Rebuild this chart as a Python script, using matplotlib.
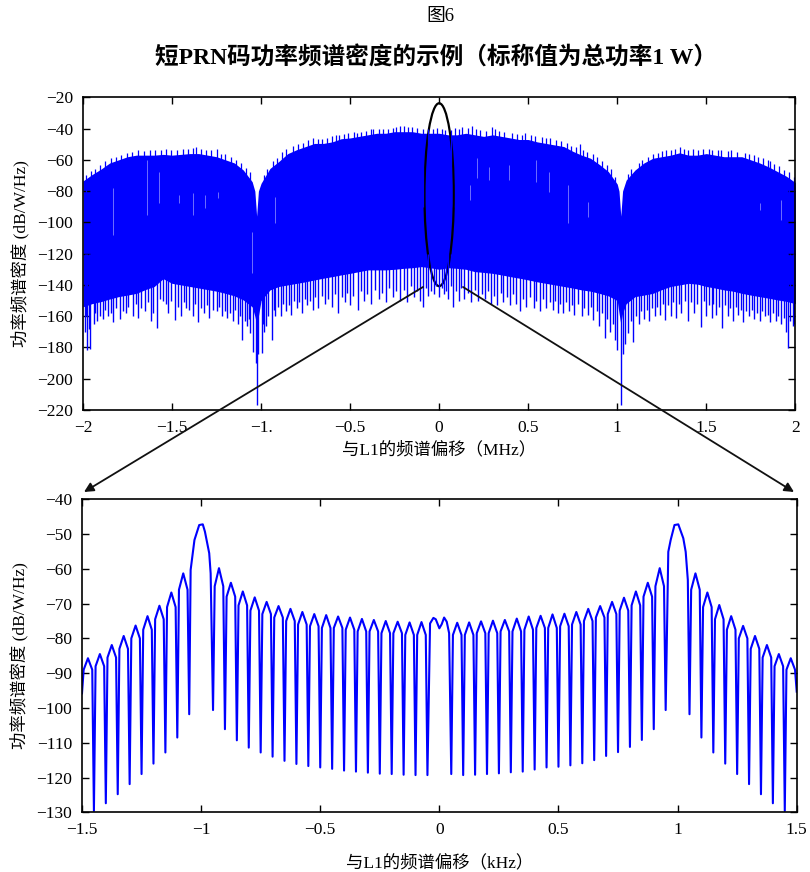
import matplotlib
matplotlib.use("Agg")
import matplotlib.pyplot as plt
from matplotlib.patches import Ellipse, FancyArrowPatch
import numpy as np

plt.rcParams['font.family'] = ['Liberation Serif', 'Noto Sans CJK SC', 'DejaVu Sans']

# --- Top panel: envelope of the dense PSD (MHz, dB/W/Hz)
env_x = [-2.00, -1.95, -1.90, -1.85, -1.80, -1.75, -1.70, -1.65, -1.60, -1.55,
         -1.50, -1.45, -1.40, -1.35, -1.30, -1.25, -1.20, -1.15, -1.10, -1.05,
         -1.035, -1.025, -1.015, -1.00, -0.95, -0.90, -0.85, -0.80, -0.75, -0.70,
         -0.65, -0.60, -0.55, -0.50, -0.45, -0.40, -0.35, -0.30, -0.25, -0.20,
         -0.15, -0.10, -0.05, 0.00, 0.05, 0.10, 0.15, 0.20, 0.25, 0.30,
         0.35, 0.40, 0.45, 0.50, 0.55, 0.60, 0.65, 0.70, 0.75, 0.80,
         0.85, 0.90, 0.95, 1.00, 1.01, 1.02, 1.03, 1.05, 1.10, 1.15,
         1.20, 1.25, 1.30, 1.35, 1.40, 1.45, 1.50, 1.55, 1.60, 1.65,
         1.70, 1.75, 1.80, 1.85, 1.90, 1.95, 2.00]
env_top = [-73.5, -69.5, -66.0, -62.0, -60.0, -58.0, -57.0, -57.0, -57.0, -56.5,
           -57.0, -56.5, -56.0, -56.0, -57.0, -58.0, -60.0, -62.0, -66.5, -74.0,
           -80.0, -96.0, -80.0, -75.0, -65.5, -61.0, -56.0, -53.5, -51.5, -49.5,
           -49.5, -48.5, -46.5, -46.0, -45.0, -44.0, -43.0, -43.0, -42.0, -42.0,
           -42.0, -43.0, -43.0, -43.0, -44.0, -44.0, -43.0, -44.0, -45.0, -44.0,
           -45.0, -46.0, -47.0, -47.0, -48.5, -49.5, -50.5, -51.5, -54.5, -57.0,
           -59.0, -63.0, -67.5, -75.5, -80.0, -96.0, -80.0, -73.0, -66.5, -62.0,
           -59.0, -58.0, -57.0, -55.5, -57.0, -57.0, -56.0, -57.0, -58.0, -58.0,
           -58.0, -60.0, -62.0, -64.5, -67.5, -70.5, -74.5]
env_low = [-154.0, -152.0, -150.7, -149.0, -147.5, -146.5, -145.4, -143.0, -141.0, -136.0,
           -139.0, -140.0, -141.0, -142.0, -143.0, -144.0, -145.4, -147.0, -149.6, -154.0,
           -160.0, -165.0, -160.0, -150.0, -143.2, -141.0, -140.0, -139.0, -138.0, -136.8,
           -135.7, -134.7, -133.6, -132.6, -131.5, -130.4, -130.4, -130.4, -130.0, -129.4,
           -129.0, -128.3, -129.0, -130.0, -129.0, -129.4, -130.0, -131.5, -132.0, -132.6,
           -133.6, -134.7, -135.7, -136.8, -138.0, -139.0, -140.0, -141.0, -142.0, -143.2,
           -144.0, -145.4, -147.0, -150.0, -158.0, -165.0, -158.0, -152.0, -147.5, -146.5,
           -145.4, -143.0, -141.0, -140.0, -139.0, -139.5, -141.0, -142.0, -143.2, -144.0,
           -145.4, -146.5, -147.5, -148.5, -149.6, -150.5, -152.0]

# deep downward spikes below the dense band
spike_x = [-1.99, -1.975, -1.96, -1.94, -1.92, -1.89, -1.86, -1.83, -1.79, -1.76,
           -1.72, -1.69, -1.65, -1.62, -1.585, -1.55, -1.52, -1.483, -1.45, -1.42,
           -1.38, -1.352, -1.32, -1.29, -1.25, -1.22, -1.193, -1.16, -1.13, -1.105,
           -1.08, -1.06, -1.043, -1.03, -1.025, -1.015, -0.996, -0.985, -0.97, -0.941,
           -0.92, -0.89, -0.86, -0.83, -0.80, -0.77, -0.74, -0.71, -0.68, -0.64,
           -0.60, -0.566, -0.53, -0.50, -0.454, -0.42, -0.38, -0.34, -0.30, -0.26,
           -0.22, -0.18, -0.14, -0.11, -0.089, -0.06, -0.03, 0.00, 0.03, 0.05,
           0.079, 0.11, 0.14, 0.18, 0.22, 0.26, 0.29, 0.323, 0.36, 0.40,
           0.43, 0.454, 0.49, 0.53, 0.566, 0.60, 0.64, 0.667, 0.697, 0.73,
           0.76, 0.80, 0.835, 0.866, 0.90, 0.931, 0.96, 0.985, 0.997, 1.02,
           1.03, 1.045, 1.06, 1.09, 1.12, 1.15, 1.18, 1.21, 1.24, 1.268,
           1.30, 1.33, 1.36, 1.40, 1.43, 1.47, 1.50, 1.53, 1.555, 1.586,
           1.62, 1.65, 1.68, 1.708, 1.74, 1.77, 1.80, 1.83, 1.86, 1.89,
           1.92, 1.95, 1.96, 1.985]
spike_db = [-170.0, -181.6, -181.0, -165.0, -163.0, -162.0, -160.0, -164.0, -162.0, -158.0,
            -160.0, -161.0, -157.0, -163.0, -167.7, -150.0, -158.0, -162.4, -160.0, -155.0,
            -160.0, -163.5, -158.0, -161.0, -157.0, -160.0, -161.0, -163.0, -165.0, -175.2,
            -166.0, -171.0, -183.0, -190.0, -216.8, -184.0, -183.7, -170.0, -166.0, -175.2,
            -160.0, -160.0, -157.0, -159.0, -155.0, -158.0, -153.0, -156.0, -155.0, -152.0,
            -154.0, -158.0, -151.0, -153.0, -156.0, -150.0, -152.0, -149.0, -151.0, -148.0,
            -150.0, -151.0, -148.0, -150.0, -153.9, -147.0, -146.0, -148.0, -146.0, -149.0,
            -153.9, -150.0, -149.0, -151.0, -150.0, -149.0, -152.0, -153.0, -151.0, -153.0,
            -152.0, -157.0, -154.0, -155.0, -157.0, -155.0, -156.0, -158.0, -158.2, -157.0,
            -159.0, -160.0, -159.0, -162.4, -166.0, -174.1, -170.0, -175.0, -181.6, -216.8,
            -184.0, -178.0, -171.0, -176.3, -165.0, -162.0, -163.0, -160.0, -159.0, -162.4,
            -160.0, -161.0, -158.0, -163.0, -158.0, -166.7, -160.0, -161.0, -159.0, -167.7,
            -160.0, -163.0, -159.0, -164.0, -160.0, -162.0, -163.0, -160.0, -164.0, -163.0,
            -165.0, -170.0, -180.5, -166.0]

# shallower spikes that make the ragged lower edge of the band
rag_x = [-1.985, -1.965, -1.935, -1.905, -1.875, -1.845, -1.815, -1.775, -1.745, -1.705,
         -1.675, -1.635, -1.605, -1.57, -1.535, -1.505, -1.465, -1.435, -1.405, -1.37,
         -1.335, -1.305, -1.27, -1.235, -1.205, -1.175, -1.145, -1.12, -1.09, -1.07,
         -0.99, -0.96, -0.93, -0.905, -0.875, -0.845, -0.815, -0.785, -0.755, -0.725,
         -0.695, -0.66, -0.625, -0.585, -0.545, -0.515, -0.485, -0.44, -0.405, -0.36,
         -0.32, -0.28, -0.24, -0.20, -0.16, -0.125, -0.075, -0.045, -0.015, 0.015,
         0.04, 0.065, 0.095, 0.125, 0.16, 0.20, 0.24, 0.275, 0.31, 0.345,
         0.38, 0.415, 0.47, 0.51, 0.545, 0.585, 0.62, 0.65, 0.68, 0.715,
         0.745, 0.78, 0.815, 0.85, 0.885, 0.915, 0.945, 0.975,
         1.075, 1.105, 1.135, 1.165, 1.195, 1.225, 1.255, 1.285, 1.315, 1.345,
         1.38, 1.415, 1.45, 1.485, 1.515, 1.54, 1.57, 1.605, 1.635, 1.665,
         1.695, 1.725, 1.755, 1.785, 1.815, 1.845, 1.875, 1.905, 1.935, 1.97, 1.995]
rag_db = [-160, -168, -158, -160, -156, -158, -155, -157, -154, -152,
          -155, -151, -158, -149, -152, -150, -154, -151, -156, -152,
          -155, -153, -156, -154, -157, -158, -156, -160, -163, -162,
          -165, -160, -156, -154, -152, -153, -150, -151, -149, -150,
          -148, -147, -149, -146, -148, -145, -147, -144, -146, -143,
          -145, -142, -144, -143, -141, -144, -142, -144, -141, -142,
          -144, -141, -144, -142, -145, -143, -146, -144, -147, -145,
          -148, -146, -149, -148, -150, -149, -151, -150, -152, -151,
          -153, -152, -155, -154, -157, -158, -162, -165,
          -163, -160, -157, -156, -155, -154, -152, -153, -151, -152,
          -150, -151, -152, -150, -153, -152, -154, -153, -155, -154,
          -156, -157, -156, -158, -157, -159, -158, -160, -161, -163, -165]

# spikes on the top edge of the band
peak_x = [-1.985, -1.955, -1.935, -1.905, -1.875, -1.845, -1.815, -1.785, -1.755, -1.725,
          -1.69, -1.66, -1.625, -1.595, -1.56, -1.535, -1.505, -1.47, -1.44, -1.41,
          -1.385, -1.365, -1.34, -1.31, -1.28, -1.25, -1.225, -1.20, -1.17, -1.14,
          -1.115, -1.085, -1.065,
          -0.985, -0.965, -0.935, -0.91, -0.88, -0.86, -0.82, -0.79, -0.765, -0.735,
          -0.707, -0.68, -0.66, -0.63, -0.60, -0.58, -0.561, -0.535, -0.51, -0.48,
          -0.463, -0.44, -0.41, -0.385, -0.37, -0.34, -0.315, -0.29, -0.26, -0.245,
          -0.22, -0.195, -0.173, -0.15, -0.125, -0.09, -0.065, -0.035, -0.01, 0.015,
          0.035, 0.065, 0.089, 0.11, 0.13, 0.16, 0.182, 0.205, 0.23, 0.265,
          0.295, 0.315, 0.335, 0.365, 0.41, 0.435, 0.465, 0.482, 0.515, 0.54,
          0.575, 0.60, 0.625, 0.655, 0.685, 0.72, 0.74, 0.77, 0.79, 0.81,
          0.83, 0.865, 0.885, 0.915, 0.94, 0.965, 0.985,
          1.06, 1.08, 1.12, 1.14, 1.175, 1.20, 1.23, 1.25, 1.275, 1.30,
          1.325, 1.352, 1.375, 1.40, 1.425, 1.455, 1.483, 1.515, 1.53, 1.565,
          1.585, 1.62, 1.64, 1.675, 1.72, 1.74, 1.77, 1.79, 1.82, 1.848,
          1.86, 1.88, 1.91, 1.935, 1.965, 1.99]
peak_db = [-70.0, -67.0, -66.0, -63.5, -61.0, -59.0, -58.5, -57.0, -55.5, -55.0,
           -54.0, -54.5, -53.5, -54.0, -53.5, -53.0, -54.0, -53.5, -53.0, -53.0,
           -52.5, -52.0, -53.0, -54.0, -54.0, -53.3, -56.0, -56.5, -58.0, -60.0,
           -62.0, -65.0, -68.0,
           -70.0, -66.0, -61.0, -59.0, -55.0, -53.0, -51.0, -50.0, -49.0, -47.5,
           -46.2, -46.5, -46.5, -46.0, -45.0, -44.0, -44.1, -43.5, -43.0, -42.5,
           -43.0, -42.0, -41.5, -40.5, -40.5, -40.5, -40.0, -40.0, -39.5, -39.0,
           -38.3, -38.5, -38.8, -39.0, -39.5, -40.0, -40.5, -40.0, -39.5, -40.0,
           -41.0, -41.0, -39.8, -40.5, -39.0, -39.5, -38.3, -40.0, -41.0, -41.5,
           -38.8, -40.0, -41.5, -42.0, -43.0, -43.5, -44.0, -43.0, -44.0, -45.0,
           -45.2, -46.0, -46.0, -47.5, -48.0, -49.0, -51.0, -51.5, -49.9, -53.5,
           -55.0, -56.0, -58.5, -61.0, -63.0, -66.0, -71.0,
           -69.0, -66.0, -62.0, -60.0, -58.0, -56.5, -55.8, -54.5, -53.5, -53.5,
           -53.0, -52.0, -53.0, -53.5, -53.0, -53.5, -53.3, -53.0, -53.5, -54.0,
           -54.0, -54.5, -54.0, -55.0, -55.5, -56.0, -57.0, -58.0, -59.0, -60.1,
           -61.0, -62.5, -64.0, -66.5, -68.0, -71.0]

# thin white gaps inside the band
gap_x = [-1.83, -1.643, -1.571, -1.459, -1.384, -1.315, -1.24, -1.053, -0.92,
         0.173, 0.21, 0.282, 0.394, 0.542, 0.615, 0.725, 0.837, 1.801, 1.918]
gap_hi = [-78.2, -60.0, -67.5, -82.5, -81.4, -82.5, -80.3, -106.0, -83.5,
          -76.0, -59.0, -64.3, -63.3, -60.0, -67.5, -76.0, -86.7, -87.8, -85.7]
gap_lo = [-108.0, -95.3, -87.8, -87.8, -95.3, -91.0, -84.6, -132.6, -100.6,
          -85.7, -71.8, -72.9, -72.9, -74.0, -80.3, -100.6, -96.3, -92.1, -98.5]

# --- Bottom panel: lobed spectrum (kHz, dB/W/Hz)
side_x = [-1.475, -1.425, -1.375, -1.325, -1.275, -1.225, -1.175, -1.125, -1.075,
          -0.925, -0.875, -0.825, -0.775, -0.725, -0.675, -0.625, -0.575, -0.525,
          -0.475, -0.425, -0.375, -0.325, -0.275, -0.225, -0.175, -0.125, -0.075,
          0.075, 0.125, 0.175, 0.225, 0.275, 0.325, 0.375, 0.425, 0.475,
          0.525, 0.575, 0.625, 0.675, 0.725, 0.775, 0.825, 0.875, 0.925,
          1.075, 1.125, 1.175, 1.225, 1.275, 1.325, 1.375, 1.425, 1.475]
side_peak = [-85.7, -84.5, -81.9, -79.3, -76.3, -73.6, -70.6, -66.8, -61.3,
             -59.8, -64.0, -66.5, -68.2, -69.5, -70.7, -71.5, -72.4, -73.0,
             -73.3, -73.7, -74.0, -74.4, -74.7, -75.0, -75.2, -75.4, -75.3,
             -75.5, -75.4, -75.1, -74.9, -74.7, -74.3, -73.7, -73.5, -73.1,
             -72.9, -72.4, -71.5, -70.7, -69.5, -68.3, -66.5, -64.0, -59.8,
             -61.3, -66.8, -70.4, -73.6, -76.4, -79.3, -81.9, -84.5, -85.7]
side_shoulder = [-89.0, -88.0, -85.5, -83.0, -80.0, -77.5, -74.5, -71.0, -66.0,
                 -65.0, -68.0, -70.5, -72.0, -73.0, -74.0, -75.0, -76.0, -76.5,
                 -77.0, -77.0, -77.5, -78.0, -78.0, -78.5, -78.5, -79.0, -79.0,
                 -79.0, -79.0, -78.5, -78.5, -78.0, -78.0, -77.5, -77.0, -77.0,
                 -76.5, -76.0, -75.0, -74.0, -73.0, -72.0, -70.5, -68.0, -65.0,
                 -66.0, -71.0, -74.5, -77.5, -80.0, -83.0, -85.5, -88.0, -89.0]

null_x = [-1.50, -1.45, -1.40, -1.35, -1.30, -1.25, -1.20, -1.15, -1.10, -1.05,
          -0.95, -0.90, -0.85, -0.80, -0.75, -0.70, -0.65, -0.60, -0.55, -0.50,
          -0.45, -0.40, -0.35, -0.30, -0.25, -0.20, -0.15, -0.10, -0.05,
          0.05, 0.10, 0.15, 0.20, 0.25, 0.30, 0.35, 0.40, 0.45, 0.50,
          0.55, 0.60, 0.65, 0.70, 0.75, 0.80, 0.85, 0.90, 0.95,
          1.05, 1.10, 1.15, 1.20, 1.25, 1.30, 1.35, 1.40, 1.45, 1.50]
null_db = [-95.8, -129.6, -127.4, -124.8, -121.9, -119.0, -116.0, -112.8, -108.5, -101.8,
           -100.6, -106.1, -109.3, -111.4, -112.8, -114.0, -115.2, -116.1, -116.7, -117.1,
           -117.5, -118.0, -118.3, -118.6, -118.9, -119.0, -119.2, -119.3, -119.3,
           -119.0, -119.3, -119.2, -119.0, -118.8, -118.5, -118.3, -117.7, -117.1, -116.9,
           -116.5, -115.9, -115.0, -113.8, -112.7, -111.2, -109.2, -106.1, -100.6,
           -101.8, -108.5, -112.8, -116.0, -119.0, -121.9, -124.8, -127.4, -129.6, -95.3]

# the three main lobes (at -1, 0 and +1 kHz)
main_x = [-1.044, -1.028, -1.008, -0.993, -0.984, -0.966, -0.960,
          -0.039, -0.025, -0.015, 0.000, 0.010, 0.020, 0.031, 0.041,
          0.961, 0.971, 0.987, 1.003, 1.024, 1.034, 1.043]
main_db = [-60.3, -51.7, -47.4, -47.2, -49.3, -55.5, -61.3,
           -75.7, -74.1, -74.5, -77.1, -75.9, -74.0, -75.2, -78.5,
           -55.1, -51.7, -47.4, -47.2, -51.2, -55.1, -63.2]

blue = '#0000ff'
fig = plt.figure(figsize=(8.1, 8.72), dpi=100)

# ---------------- top panel
ax1 = fig.add_axes([83 / 810, 1 - 410 / 872, 712.3 / 810, 312.7 / 872])
ax1.fill_between(env_x, env_low, env_top, color=blue, lw=0)
ax1.vlines(spike_x, -120, spike_db, color=blue, lw=1.0)
ax1.vlines(rag_x, -120, rag_db, color=blue, lw=1.0)
ax1.vlines(peak_x, -90, peak_db, color=blue, lw=0.9)
ax1.vlines(gap_x, gap_lo, gap_hi, color='white', lw=0.6, alpha=0.5)
ax1.add_patch(Ellipse((0, -82.3), 0.165, 117, fill=False, ec='black', lw=1.6))

ax1.set_xlim(-2, 2)
ax1.set_ylim(-220, -20)
ax1.set_xticks(np.arange(-2, 2.01, 0.5))
ax1.set_xticklabels(['−2', '−1.5', '−1.', '−0.5', '0', '0.5', '1', '1.5', '2'])
ax1.set_yticks(np.arange(-220, -19, 20))
ax1.set_yticklabels(['−%d' % abs(v) for v in range(-220, -19, 20)])
ax1.set_xlabel('与L1的频谱偏移（MHz）', fontsize=12.5, labelpad=4)
ax1.set_ylabel('功率频谱密度 (dB/W/Hz)', fontsize=12.5, labelpad=6)

# ---------------- bottom panel
xs = side_x + [c - 0.018 for c in side_x] + [c + 0.018 for c in side_x] + null_x + main_x
ys = side_peak + side_shoulder + side_shoulder + null_db + main_db
order = np.argsort(xs)
ax2 = fig.add_axes([82 / 810, 1 - 812.3 / 872, 714.7 / 810, 313 / 872])
ax2.plot(np.array(xs)[order], np.array(ys)[order], color=blue, lw=1.5)
ax2.set_xlim(-1.5, 1.5)
ax2.set_ylim(-130, -40)
ax2.set_xticks(np.arange(-1.5, 1.51, 0.5))
ax2.set_xticklabels(['−1.5', '−1', '−0.5', '0', '0.5', '1', '1.5'])
ax2.set_yticks(np.arange(-130, -39, 10))
ax2.set_yticklabels(['−%d' % abs(v) for v in range(-130, -39, 10)])
ax2.set_xlabel('与L1的频谱偏移（kHz）', fontsize=12.5, labelpad=12)
ax2.set_ylabel('功率频谱密度 (dB/W/Hz)', fontsize=12.5, labelpad=6)

for ax in (ax1, ax2):
    ax.tick_params(direction='in', top=True, right=True, length=5, width=1,
                   labelsize=12.5, pad=7)
    for s in ax.spines.values():
        s.set_linewidth(1.2)

# zoom arrows from the ellipse to the lower panel
def fpx(x, y):
    return (x / 810, 1 - y / 872)

for a, b in [((423, 287), (84, 492)), ((463, 287), (794, 492))]:
    fig.add_artist(FancyArrowPatch(fpx(*a), fpx(*b), transform=fig.transFigure,
                                   arrowstyle='-|>', mutation_scale=14,
                                   color='#111111', lw=1.3, shrinkA=0, shrinkB=0))

fig.text(440 / 810, 1 - 16 / 872, '图6', ha='center', va='center', fontsize=13.5)
fig.text(436 / 810, 1 - 57 / 872, '短PRN码功率频谱密度的示例（标称值为总功率1 W）',
         ha='center', va='center', fontsize=17, fontweight='bold')

fig.savefig('out.png', dpi=100)
